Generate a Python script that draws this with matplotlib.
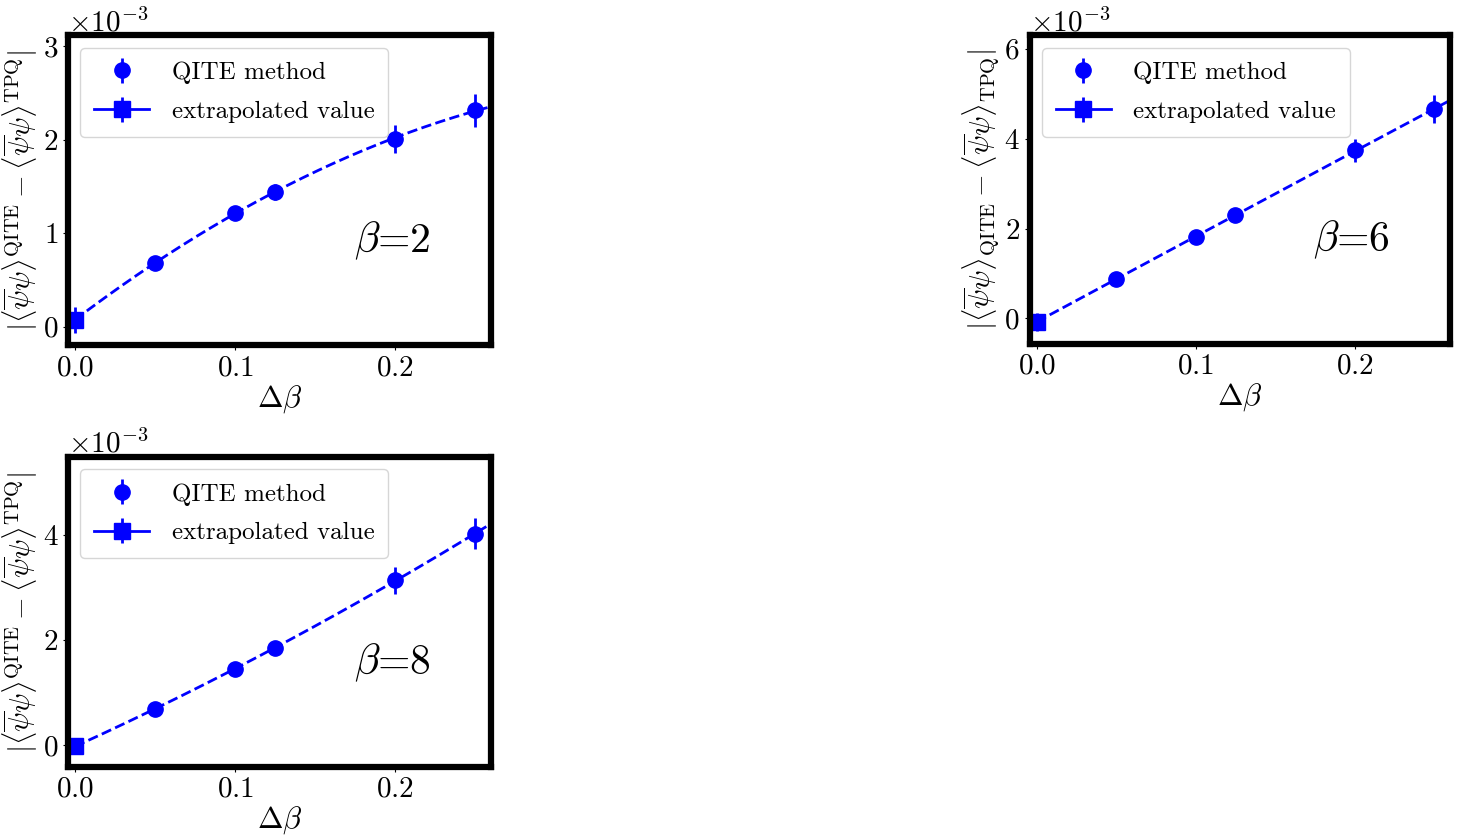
import numpy as np
import matplotlib
matplotlib.use('Agg')
import matplotlib.pyplot as plt

plt.rcParams['font.family'] = 'serif'
plt.rcParams['font.serif'] = ['cmr10']
plt.rcParams['mathtext.fontset'] = 'cm'
plt.rcParams['axes.formatter.use_mathtext'] = True

# data (values in units of 1e-3)
dbeta = [0.05, 0.1, 0.125, 0.2, 0.25]

beta2_vals = [0.684, 1.218, 1.442, 2.013, 2.315]
beta2_errs = [0.04, 0.05, 0.09, 0.15, 0.18]
beta2_extrap = 0.07
beta2_extrap_err = 0.14

beta6_vals = [0.867, 1.815, 2.296, 3.74, 4.65]
beta6_errs = [0.05, 0.06, 0.08, 0.26, 0.31]
beta6_extrap = -0.07
beta6_extrap_err = 0.2

beta8_vals = [0.698, 1.46, 1.853, 3.14, 4.03]
beta8_errs = [0.04, 0.05, 0.06, 0.25, 0.29]
beta8_extrap = -0.02
beta8_extrap_err = 0.1

label_sup = r'$|\langle\overline{\psi}\psi\rangle^{\rm QITE}-\langle\overline{\psi}\psi\rangle^{\rm TPQ}|$'
label_sub = r'$|\langle\overline{\psi}\psi\rangle_{\rm QITE}-\langle\overline{\psi}\psi\rangle_{\rm TPQ}|$'

panels = [
    ([0.046, 0.589, 0.287, 0.369], beta2_vals, beta2_errs, beta2_extrap, beta2_extrap_err,
     r'$\beta$=2', label_sup, (-0.2, 3.12), [0, 1, 2, 3]),
    ([0.698, 0.591, 0.285, 0.367], beta6_vals, beta6_errs, beta6_extrap, beta6_extrap_err,
     r'$\beta$=6', label_sub, (-0.56, 6.3), [0, 2, 4, 6]),
    ([0.046, 0.087, 0.287, 0.369], beta8_vals, beta8_errs, beta8_extrap, beta8_extrap_err,
     r'$\beta$=8', label_sup, (-0.41, 5.49), [0, 2, 4]),
]

fig = plt.figure(figsize=(14.75, 8.4), dpi=100)

for pos, vals, errs, ext, ext_err, title, ylab, ylim, yt in panels:
    ax = fig.add_axes(pos)
    x = np.array(dbeta)
    y = np.array(vals) * 1e-3
    e = np.array(errs) * 1e-3
    # quadratic fit through the data + extrapolated point
    xf = np.concatenate([[0.0], x])
    yf = np.concatenate([[ext * 1e-3], y])
    coef = np.polyfit(xf, yf, 2)
    xx = np.linspace(0, 0.27, 200)
    ax.plot(xx, np.polyval(coef, xx), '--', color='blue', lw=2)
    ax.errorbar(x, y, yerr=e, fmt='o', color='blue', markersize=11, elinewidth=2,
                label='QITE method')
    ax.errorbar([0.0], [ext * 1e-3], yerr=[ext_err * 1e-3], fmt='s-', color='blue',
                markersize=12, elinewidth=2, lw=2, label='extrapolated value')
    ax.set_xlim(-0.0045, 0.26)
    ax.set_ylim(ylim[0] * 1e-3, ylim[1] * 1e-3)
    ax.set_xticks([0.0, 0.1, 0.2])
    ax.set_yticks(np.array(yt) * 1e-3)
    ax.ticklabel_format(axis='y', style='sci', scilimits=(0, 0))
    ax.yaxis.get_offset_text().set_fontsize(21)
    ax.tick_params(labelsize=21)
    for sp in ax.spines.values():
        sp.set_linewidth(4.5)
    ax.set_xlabel(r'$\Delta\beta$', fontsize=22, labelpad=1)
    ax.set_ylabel(ylab, fontsize=21, labelpad=2)
    ax.text(0.675, 0.30, title, transform=ax.transAxes, fontsize=30)
    ax.legend(loc='upper left', fontsize=18, handlelength=2.2, handletextpad=0.9,
              labelspacing=0.65, borderpad=0.55)

plt.savefig('out.png', dpi=100)
